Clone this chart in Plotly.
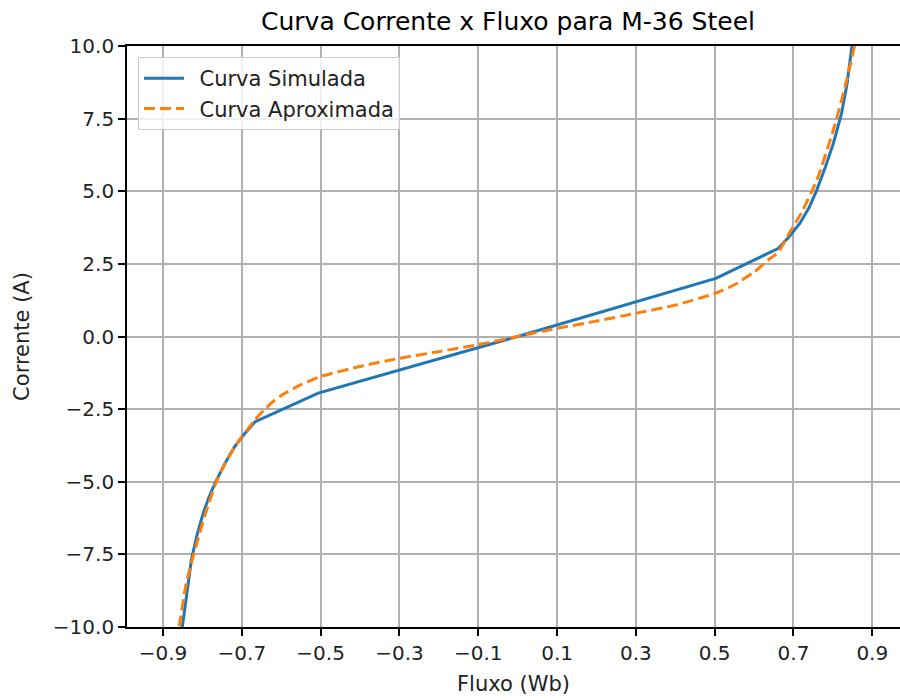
import plotly.graph_objects as go

# Simulated current vs. flux (piecewise from the M-36 steel magnetization data)
flux_sim = [-0.870, -0.851, -0.840, -0.828, -0.814, -0.798, -0.784, -0.768,
            -0.744, -0.718, -0.693, -0.666, -0.506, 0.0, 0.503, 0.661,
            0.690, 0.716, 0.740, 0.759, 0.780, 0.801, 0.822, 0.836, 0.848, 0.865]
current_sim = [-11.9, -9.98, -8.80, -7.69, -6.85, -6.08, -5.55, -5.05,
               -4.40, -3.79, -3.35, -2.93, -1.95, 0.0, 2.00, 3.03,
               3.45, 3.89, 4.45, 5.04, 5.80, 6.64, 7.68, 8.70, 9.97, 11.5]

# Approximated (fitted) current vs. flux
flux_apx = [-0.880, -0.859, -0.841, -0.830, -0.807, -0.790, -0.766, -0.740,
            -0.720, -0.700, -0.680, -0.667, -0.640, -0.621, -0.600, -0.550,
            -0.500, -0.400, -0.300, -0.200, -0.100, 0.0, 0.100, 0.200,
            0.300, 0.400, 0.500, 0.550, 0.600, 0.640, 0.661, 0.691,
            0.720, 0.759, 0.801, 0.835, 0.856, 0.875]
current_apx = [-11.6, -9.98, -8.49, -7.90, -6.77, -6.00, -5.05, -4.30,
               -3.85, -3.45, -3.10, -2.87, -2.48, -2.24, -2.03, -1.66,
               -1.38, -1.03, -0.75, -0.52, -0.28, 0.0, 0.28, 0.53,
               0.80, 1.08, 1.48, 1.78, 2.22, 2.68, 2.90, 3.60,
               4.25, 5.38, 7.10, 8.82, 10.08, 11.5]

x_ticks = [-0.9, -0.7, -0.5, -0.3, -0.1, 0.1, 0.3, 0.5, 0.7, 0.9]
y_ticks = [-10.0, -7.5, -5.0, -2.5, 0.0, 2.5, 5.0, 7.5, 10.0]

FONT = "DejaVu Sans"
GAP = "\u2002"  # spacing between legend swatch and label

fig = go.Figure()
fig.add_trace(go.Scatter(
    x=flux_sim, y=current_sim, mode="lines", name=GAP + "Curva Simulada",
    legendgroup="sim",
    line=dict(color="#1f77b4", width=3),
))
fig.add_trace(go.Scatter(
    x=flux_apx, y=current_apx, mode="lines", name=GAP + "Curva Aproximada",
    legendgroup="apx",
    line=dict(color="#ff7f0e", width=3, dash="11px,5px", shape="spline", smoothing=0.6),
))

fig.update_layout(
    width=900, height=700,
    margin=dict(l=127, r=0, t=46, b=73),
    paper_bgcolor="white", plot_bgcolor="white",
    font=dict(family=FONT, size=20, color="#000000"),
    title=dict(text="Curva Corrente x Fluxo para M-36 Steel",
               x=508 / 900, xanchor="center", xref="container",
               y=1 - 21 / 700, yanchor="middle", yref="container",
               font=dict(family=FONT, size=25, color="#000000")),
    legend=dict(x=0.0142, y=0.981, xanchor="left", yanchor="top",
                bgcolor="rgba(255,255,255,0.8)", bordercolor="#cccccc", borderwidth=1,
                font=dict(family=FONT, size=21, color="#222222"),
                tracegroupgap=0, itemwidth=40),
    showlegend=True,
)

fig.update_xaxes(
    range=[-0.9914, 0.9703], tickvals=x_ticks, tickformat=".1f",
    showgrid=True, gridcolor="#b0b0b0", gridwidth=1.6, zeroline=False,
    showline=True, linecolor="black", linewidth=1.7, mirror=True,
    ticks="outside", ticklen=7, tickwidth=1.6, tickcolor="black",
    tickfont=dict(family=FONT, size=20, color="#222222"),
    title=dict(text="Fluxo (Wb)", font=dict(family=FONT, size=21, color="#222222"), standoff=12),
)
fig.update_yaxes(
    range=[-10, 10], tickvals=y_ticks, tickformat=".1f",
    showgrid=True, gridcolor="#b0b0b0", gridwidth=1.6, zeroline=False,
    showline=True, linecolor="black", linewidth=1.7,
    ticks="outside", ticklen=7, tickwidth=1.6, tickcolor="black",
    tickfont=dict(family=FONT, size=20, color="#222222"),
    title=dict(text="Corrente (A)", font=dict(family=FONT, size=21, color="#222222"), standoff=18),
)

fig.write_html("out.html")
